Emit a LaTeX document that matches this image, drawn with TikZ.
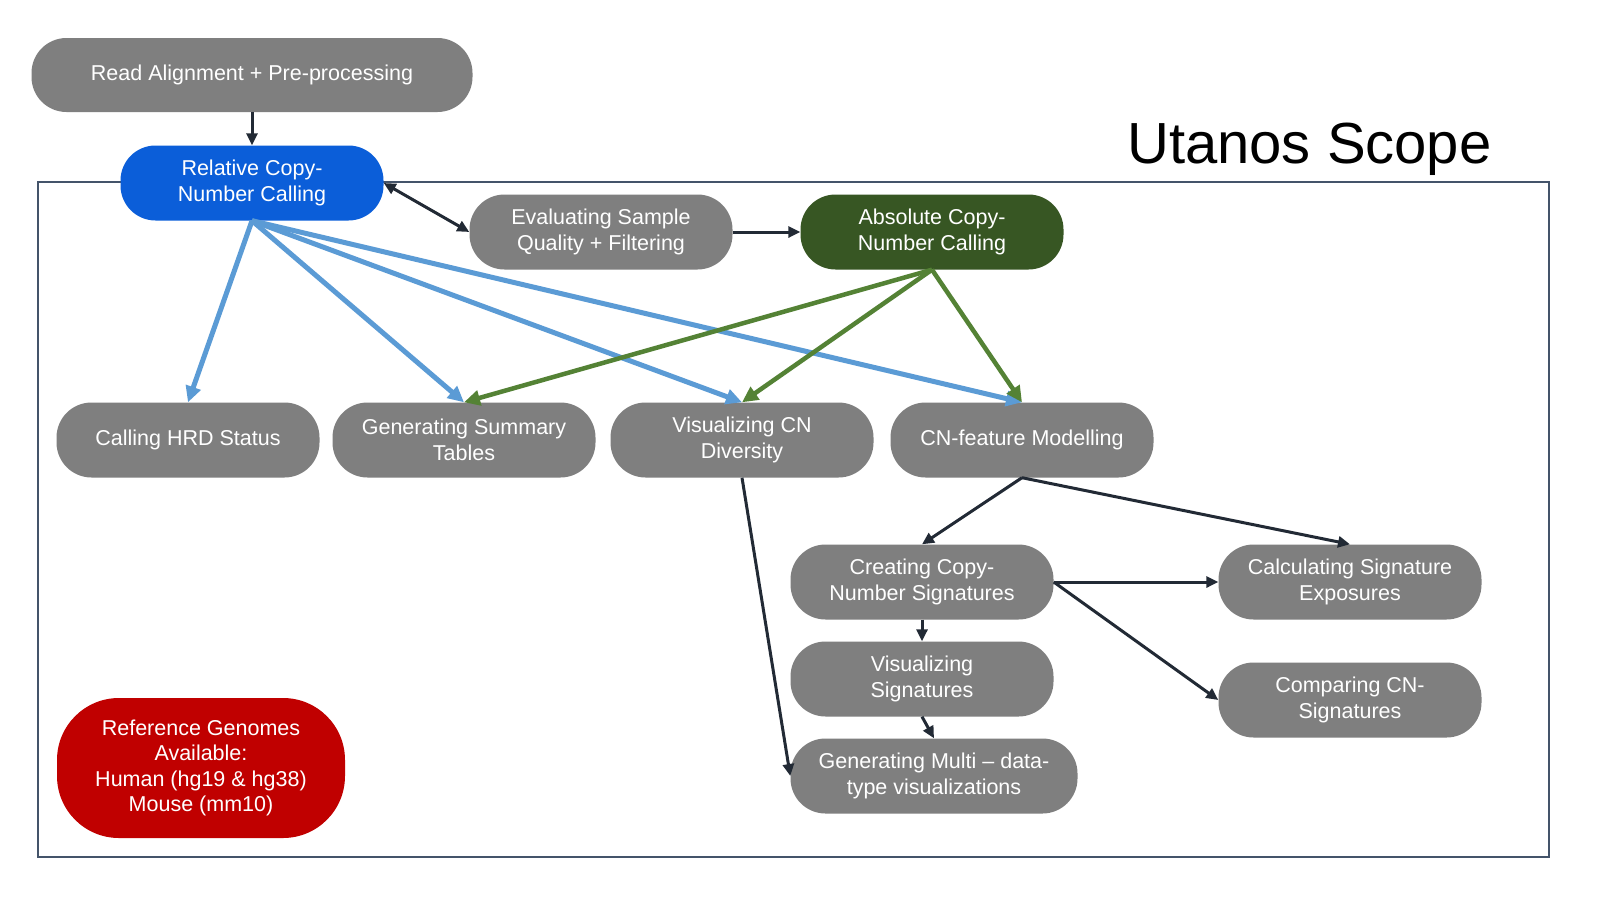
\documentclass[tikz,border=0pt]{standalone}
\usepackage{fontspec}
\setmainfont{Liberation Sans}
\usetikzlibrary{arrows.meta}
\definecolor{boxgray}{HTML}{7F7F7F}
\definecolor{relblue}{HTML}{0B5ED9}
\definecolor{absgreen}{HTML}{375623}
\definecolor{refred}{HTML}{C00000}
\definecolor{lineblue}{HTML}{5B9BD5}
\definecolor{linegreen}{HTML}{548235}
\definecolor{linedark}{HTML}{222A35}
\definecolor{framecol}{HTML}{44546A}
\tikzset{
  pill/.style={draw=none, fill=boxgray, text=white, rounded corners=35pt,
    minimum width=263pt, minimum height=75pt, align=center, inner sep=0pt,
    font=\fontsize{21.5}{26}\selectfont},
  darrow/.style={draw=linedark, line width=3pt, -{Triangle[length=12pt,width=11pt]}},
  barrow/.style={draw=lineblue, line width=5pt, -{Triangle[length=16pt,width=15pt]}},
  garrow/.style={draw=linegreen, line width=4.5pt, -{Triangle[length=16pt,width=15pt]}},
}
\begin{document}
\begin{tikzpicture}[x=1pt,y=-1pt]
\useasboundingbox (0,0) rectangle (1600,900);
\fill[white] (0,0) rectangle (1600,900);
% frame
\draw[framecol, line width=1.5pt] (38,182) rectangle (1549,857);
\node[anchor=base west, inner sep=0pt, font=\fontsize{58}{68}\selectfont] (title) at (1127,163) {Utanos Scope};

% nodes
\node[pill, minimum width=441pt, minimum height=74pt] (read) at (252,75) {Read Alignment + Pre-processing};
\node[pill, fill=relblue] (rel) at (252,183) {Relative Copy-\\Number Calling};
\node[pill] (eval) at (601,232) {Evaluating Sample\\Quality + Filtering};
\node[pill, fill=absgreen] (abs) at (932,232) {Absolute Copy-\\Number Calling};
\node[pill] (hrd) at (188,440) {Calling HRD Status};
\node[pill] (sum) at (464,440) {Generating Summary\\Tables};
\node[pill] (vcn) at (742,440) {Visualizing CN\\Diversity};
\node[pill] (cnf) at (1022,440) {CN-feature Modelling};
\node[pill] (create) at (922,582) {Creating Copy-\\Number Signatures};
\node[pill] (calc) at (1350,582) {Calculating Signature\\Exposures};
\node[pill] (vsig) at (922,679) {Visualizing\\Signatures};
\node[pill] (comp) at (1350,700) {Comparing CN-\\Signatures};
\node[pill, minimum width=287pt] (multi) at (934,776) {Generating Multi -- data-\\type visualizations};
\node[pill, fill=refred, minimum width=288pt, minimum height=140pt, rounded corners=62pt, font=\fontsize{21.5}{25.5}\selectfont] (ref) at (201,768) {Reference Genomes\\Available:\\Human (hg19 \& hg38)\\Mouse (mm10)};

% dark connectors
\draw[darrow] (read.south) -- (rel.north);
\draw[darrow, {Triangle[length=12pt,width=11pt]}-{Triangle[length=12pt,width=11pt]}] (rel.east) -- (eval.west);
\draw[darrow] (eval.east) -- (abs.west);

% blue connectors
\draw[barrow] (rel.south) -- (hrd.north);
\draw[barrow] (rel.south) -- (sum.north);
\draw[barrow] (rel.south) -- (vcn.north);
\draw[barrow] (rel.south) -- (cnf.north);

% green connectors
\draw[garrow] (abs.south) -- (sum.north);
\draw[garrow] (abs.south) -- (vcn.north);
\draw[garrow] (abs.south) -- (cnf.north);

% lower connectors
\draw[darrow] (cnf.south) -- (create.north);
\draw[darrow] (cnf.south) -- (calc.north);
\draw[darrow] (vcn.south) -- (multi.west);
\draw[darrow] (create.east) -- (calc.west);
\draw[darrow] (create.east) -- (comp.west);
\draw[darrow] (create.south) -- (vsig.north);
\draw[darrow] (vsig.south) -- (multi.north);
\end{tikzpicture}
\end{document}
